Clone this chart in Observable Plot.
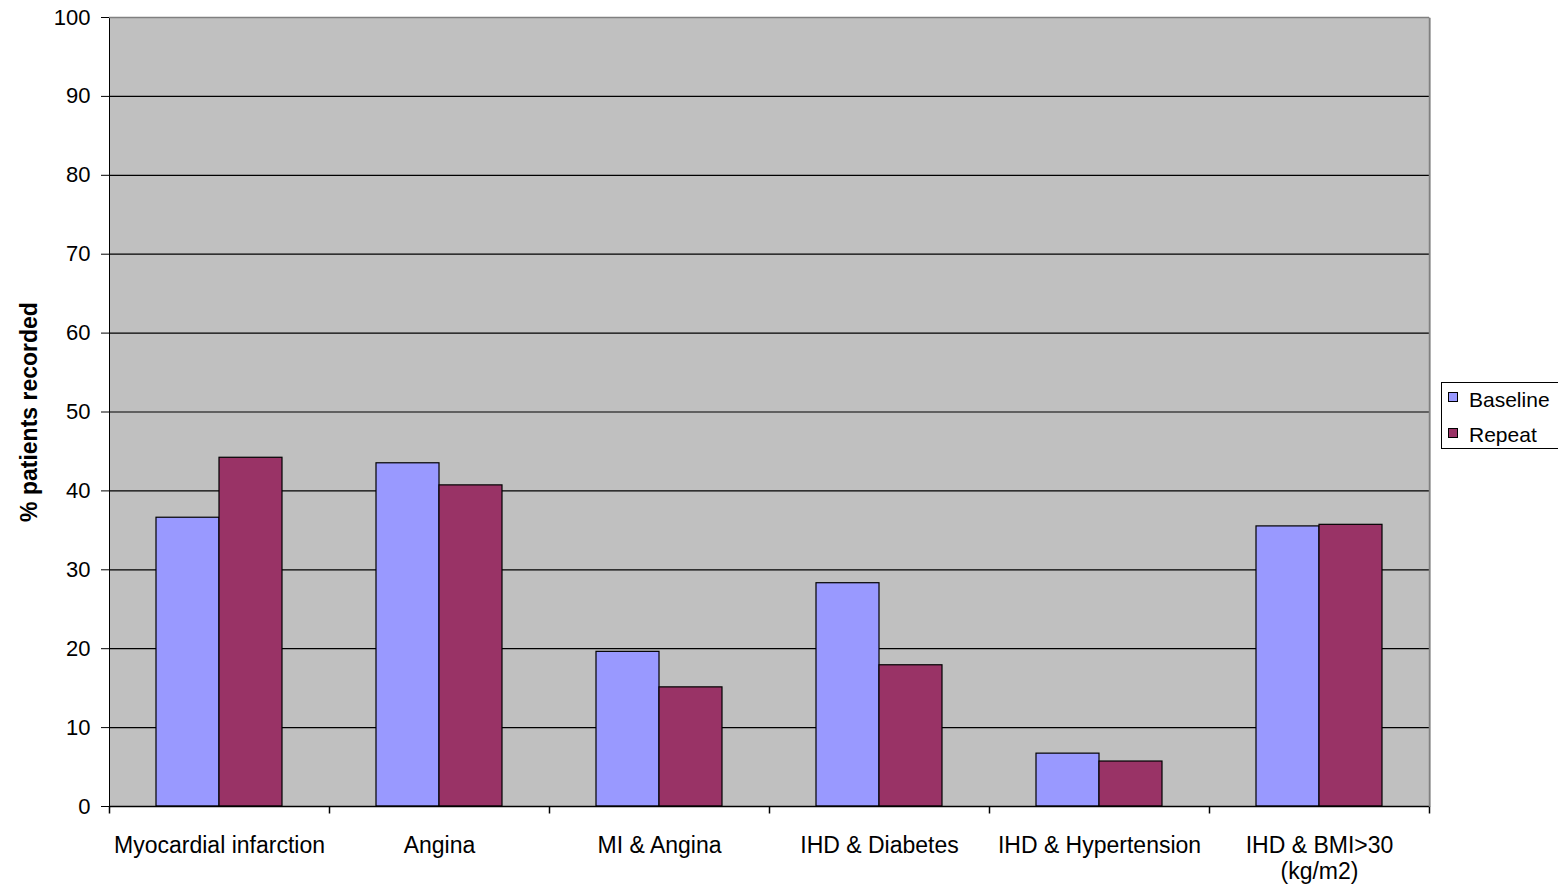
<!DOCTYPE html>
<html>
<head>
<meta charset="utf-8">
<script src="https://cdn.jsdelivr.net/npm/d3@7"></script>
<script src="https://cdn.jsdelivr.net/npm/@observablehq/plot@0.6"></script>
<style>
  body { margin: 0; background: #fff; font-family: "Liberation Sans", Arial, sans-serif; }
  #wrap { position: relative; width: 1558px; height: 887px; overflow: hidden; }
  #legend { position: absolute; left: 1441px; top: 382px; width: 130px; height: 67px;
            border: 1px solid #000; background: #fff; box-sizing: border-box; }
  .sw { position: absolute; left: 6px; width: 10px; height: 10px; border: 1px solid #000; box-sizing: border-box; }
  .lt { position: absolute; left: 27px; font-size: 21px; line-height: 21px; color: #000; }
</style>
</head>
<body>
<div id="wrap"></div>
<script>
const categories = ["Myocardial infarction", "Angina", "MI & Angina", "IHD & Diabetes", "IHD & Hypertension", "IHD & BMI>30\n(kg/m2)"];
const seriesNames = ["Baseline", "Repeat"];
const baselineValues = [36.6, 43.5, 19.6, 28.3, 6.7, 35.5];
const repeatValues = [44.2, 40.7, 15.1, 17.9, 5.7, 35.7];
const seriesColors = ["#9999ff", "#993366"];
const yTicks = [0, 10, 20, 30, 40, 50, 60, 70, 80, 90, 100];
const yTitle = "% patients recorded";

const rows = [];
categories.forEach((c, i) => {
  rows.push({category: c, series: seriesNames[0], value: baselineValues[i]});
  rows.push({category: c, series: seriesNames[1], value: repeatValues[i]});
});

const W = 1558, H = 887, mt = 17, mb = 81, ml = 107, mr = 128;
const innerH = H - mt - mb;

const tickDown = {draw(ctx) { ctx.moveTo(0, 0); ctx.lineTo(0, 7); }};
const borderUp = {draw(ctx) { ctx.moveTo(0, 0); ctx.lineTo(0, -innerH); }};

const chart = Plot.plot({
  width: W, height: H,
  marginTop: mt, marginBottom: mb, marginLeft: ml, marginRight: mr,
  style: {fontFamily: "'Liberation Sans', Arial, sans-serif", fontSize: "22px", color: "#000", background: "#fff"},
  fx: {domain: categories, padding: 0, axis: null},
  x: {domain: seriesNames, paddingInner: 0, paddingOuter: 0.72, axis: null},
  y: {domain: [0, 100], ticks: yTicks, tickSize: 8, tickPadding: 11, line: true, label: null},
  color: {domain: seriesNames, range: seriesColors},
  marks: [
    Plot.frame({fill: "#c0c0c0", stroke: "none", insetRight: -1, shapeRendering: "crispEdges"}),
    Plot.ruleY(yTicks.filter(t => t > 0 && t < 100), {stroke: "#000", strokeWidth: 1.2}),
    Plot.ruleY([100], {stroke: "#808080", strokeWidth: 1.5}),
    Plot.barY(rows, {fx: "category", x: "series", y: "value", fill: "series", stroke: "#000", strokeWidth: 1.2}),
    Plot.ruleY([0], {stroke: "#000", strokeWidth: 1.5}),
    Plot.dot(categories, {fx: d => d, frameAnchor: "bottom-left", symbol: tickDown, stroke: "#000", fill: "none", strokeWidth: 1.5}),
    Plot.dot([categories[categories.length - 1]], {fx: d => d, frameAnchor: "bottom-right", symbol: tickDown, stroke: "#000", fill: "none", strokeWidth: 1.5}),
    Plot.dot([categories[categories.length - 1]], {fx: d => d, frameAnchor: "bottom-right", symbol: borderUp, stroke: "#808080", fill: "none", strokeWidth: 1.5}),
    Plot.text(categories, {fx: d => d, text: d => d, frameAnchor: "bottom", dy: 29, lineAnchor: "top", lineHeight: 1.1, fontSize: 23, fill: "#000"}),
    Plot.text([categories[0]], {fx: d => d, text: () => yTitle, frameAnchor: "left", textAnchor: "middle", dx: -80, rotate: -90, fontWeight: "bold", fontSize: 23, fill: "#000"})
  ]
});

const wrap = document.getElementById("wrap");
wrap.appendChild(chart);

const legend = document.createElement("div");
legend.id = "legend";
seriesNames.forEach((s, i) => {
  const sw = document.createElement("div");
  sw.className = "sw";
  sw.style.top = (9 + i * 36) + "px";
  sw.style.background = seriesColors[i];
  const t = document.createElement("div");
  t.className = "lt";
  t.style.top = (6 + i * 35) + "px";
  t.textContent = s;
  legend.appendChild(sw);
  legend.appendChild(t);
});
wrap.appendChild(legend);
</script>
</body>
</html>
